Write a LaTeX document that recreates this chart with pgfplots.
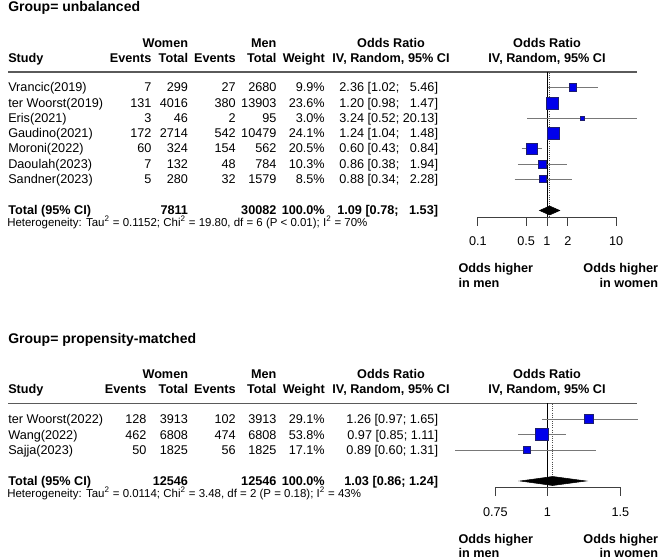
\documentclass[border=0pt]{standalone}
\usepackage{pgfplots}
\pgfplotsset{compat=1.18}
\usepackage{pgfplotstable}
\usepackage{fontspec}
\setmainfont{Liberation Sans}

\definecolor{sqblue}{RGB}{0,0,235}
\definecolor{sqedge}{RGB}{30,30,110}
\definecolor{cigray}{RGB}{120,120,120}
\definecolor{rulegray}{RGB}{90,90,90}

% one reference pixel = 0.75pt, y runs downwards like the image
\pgfplotsset{
  panel/.style={width=495pt, height=419.25pt, scale only axis, hide axis,
    clip=false, ymin=0, ymax=559, y dir=reverse, at={(0,0)}, anchor=south west},
}

% odds ratio, row position, weight (%)
\pgfplotstableread{
or   y     w
2.36 87.5  9.9
1.20 103   23.6
3.24 118   3.0
1.24 133.5 24.1
0.60 148.5 20.5
0.86 164   10.3
0.88 179   8.5
}\topsq
\pgfplotstableread{
or   y     w
1.26 419   29.1
0.97 434.5 53.8
0.89 450   17.1
}\botsq

\newcommand{\rt}[3]{\node[anchor=base east] at (axis cs:#1,#2) {#3};}
\newcommand{\lt}[3]{\node[anchor=base west] at (axis cs:#1,#2) {#3};}
\newcommand{\ct}[3]{\node[anchor=base] at (axis cs:#1,#2) {#3};}
\newcommand{\studyrow}[9]{%
  \lt{8}{#2}{#3}\rt{#1}{#2}{#4}\rt{188.3}{#2}{#5}\rt{236}{#2}{#6}%
  \rt{276.7}{#2}{#7}\rt{325}{#2}{#8}\rt{438.3}{#2}{#9}}
\newcommand{\ttl}{\fontsize{10.5}{12}\selectfont\bfseries}
\newcommand{\het}{\fontsize{8.6}{10}\selectfont}
\newcommand{\ph}{\phantom{0}}

\begin{document}
\begin{tikzpicture}[every node/.style={inner sep=0pt, font=\fontsize{9.5}{11}\selectfont}]
\useasboundingbox (0,0) rectangle (495pt,419.25pt);

% ---------------- text table ----------------
\begin{axis}[panel, xmin=0, xmax=660]
  % top group
  \lt{8}{12}{\ttl Group= unbalanced}
  \rt{188.3}{47.5}{\bfseries Women}
  \rt{276.7}{47.5}{\bfseries Men}
  \ct{391}{47.5}{\bfseries Odds Ratio}
  \ct{547}{47.5}{\bfseries Odds Ratio}
  \lt{8}{62.8}{\bfseries Study}
  \rt{151.7}{62.8}{\bfseries Events}
  \rt{188.3}{62.8}{\bfseries Total}
  \rt{236}{62.8}{\bfseries Events}
  \rt{276.7}{62.8}{\bfseries Total}
  \rt{325}{62.8}{\bfseries Weight}
  \ct{391}{62.8}{\bfseries IV, Random, 95\% CI}
  \ct{547}{62.8}{\bfseries IV, Random, 95\% CI}
  \addplot[rulegray, line width=0.8pt, no marks] coordinates {(8,72) (637,72)};
  \studyrow{151.7}{92}{Vrancic(2019)}{7}{299}{27}{2680}{9.9\%}{2.36 [1.02; \ph5.46]}
  \studyrow{151.7}{107.5}{ter Woorst(2019)}{131}{4016}{380}{13903}{23.6\%}{1.20 [0.98; \ph1.47]}
  \studyrow{151.7}{122.5}{Eris(2021)}{3}{46}{2}{95}{3.0\%}{3.24 [0.52; 20.13]}
  \studyrow{151.7}{138}{Gaudino(2021)}{172}{2714}{542}{10479}{24.1\%}{1.24 [1.04; \ph1.48]}
  \studyrow{151.7}{153}{Moroni(2022)}{60}{324}{154}{562}{20.5\%}{0.60 [0.43; \ph0.84]}
  \studyrow{151.7}{168.5}{Daoulah(2023)}{7}{132}{48}{784}{10.3\%}{0.86 [0.38; \ph1.94]}
  \studyrow{151.7}{183.5}{Sandner(2023)}{5}{280}{32}{1579}{8.5\%}{0.88 [0.34; \ph2.28]}
  \studyrow{151.7}{214.5}{\bfseries Total (95\% CI)}{}{\bfseries 7811}{}{\bfseries 30082}{\bfseries 100.0\%}{\bfseries 1.09 [0.78; \ph1.53]}
  \lt{7}{227}{\het Heterogeneity: Tau\textsuperscript{2} = 0.1152; Chi\textsuperscript{2} = 19.80, df = 6 (P < 0.01); I\textsuperscript{2} = 70\%}
  \lt{458.3}{272.5}{\bfseries Odds higher}
  \lt{458.3}{287.8}{\bfseries in men}
  \rt{658.3}{272.5}{\bfseries Odds higher}
  \rt{658.3}{287.8}{\bfseries in women}

  % bottom group
  \lt{8}{344}{\ttl Group= propensity-matched}
  \rt{188.3}{378.5}{\bfseries Women}
  \rt{276.7}{378.5}{\bfseries Men}
  \ct{391}{378.5}{\bfseries Odds Ratio}
  \ct{547}{378.5}{\bfseries Odds Ratio}
  \lt{8}{393.8}{\bfseries Study}
  \rt{146.7}{393.8}{\bfseries Events}
  \rt{188.3}{393.8}{\bfseries Total}
  \rt{236}{393.8}{\bfseries Events}
  \rt{276.7}{393.8}{\bfseries Total}
  \rt{325}{393.8}{\bfseries Weight}
  \ct{391}{393.8}{\bfseries IV, Random, 95\% CI}
  \ct{547}{393.8}{\bfseries IV, Random, 95\% CI}
  \addplot[rulegray, line width=0.8pt, no marks] coordinates {(8,403.3) (637,403.3)};
  \studyrow{146.7}{423.5}{ter Woorst(2022)}{128}{3913}{102}{3913}{29.1\%}{1.26 [0.97; 1.65]}
  \studyrow{146.7}{439}{Wang(2022)}{462}{6808}{474}{6808}{53.8\%}{0.97 [0.85; 1.11]}
  \studyrow{146.7}{454.5}{Sajja(2023)}{50}{1825}{56}{1825}{17.1\%}{0.89 [0.60; 1.31]}
  \studyrow{146.7}{485}{\bfseries Total (95\% CI)}{}{\bfseries 12546}{}{\bfseries 12546}{\bfseries 100.0\%}{\bfseries 1.03 [0.86; 1.24]}
  \lt{7}{497.5}{\het Heterogeneity: Tau\textsuperscript{2} = 0.0114; Chi\textsuperscript{2} = 3.48, df = 2 (P = 0.18); I\textsuperscript{2} = 43\%}
  \lt{458.3}{543.5}{\bfseries Odds higher}
  \lt{458.3}{557}{\bfseries in men}
  \rt{658.3}{543.5}{\bfseries Odds higher}
  \rt{658.3}{557}{\bfseries in women}
\end{axis}

% ---------------- top forest ----------------
\begin{axis}[panel, xmode=log, xmin=1.2455e-8, xmax=42.95]
  \addplot[black, line width=0.6pt, no marks] coordinates {(1,72) (1,217.5)};
  \addplot[black!70, densely dotted, line width=0.6pt, no marks] coordinates {(1.09,73) (1.09,217.5)};
  \addplot[scatter, only marks, mark=square*,
    scatter/use mapped color={draw=sqedge, fill=sqblue},
    visualization depends on={0.919*sqrt(\thisrow{w}) \as \msz},
    scatter/@pre marker code/.append style={/tikz/mark size=\msz pt, /tikz/line width=0.4pt}]
    table[x=or, y=y] \topsq;
  \addplot[cigray, line width=0.6pt, no marks, unbounded coords=jump] coordinates {
    (1.02,87.5) (5.46,87.5) (nan,nan)
    (0.98,103) (1.47,103) (nan,nan)
    (0.52,118) (20.13,118) (nan,nan)
    (1.04,133.5) (1.48,133.5) (nan,nan)
    (0.43,148.5) (0.84,148.5) (nan,nan)
    (0.38,164) (1.94,164) (nan,nan)
    (0.34,179) (2.28,179)};
  \addplot[fill=black, draw=black, line width=0.4pt] coordinates
    {(0.78,210.5) (1.09,206) (1.53,210.5) (1.09,215)} -- cycle;
  % axis
  \addplot[black!75, line width=0.6pt, no marks, unbounded coords=jump] coordinates {
    (0.1,226) (0.1,217.5) (10,217.5) (10,226) (nan,nan)
    (0.5,217.5) (0.5,226) (nan,nan)
    (1,217.5) (1,226) (nan,nan)
    (2,217.5) (2,226)};
  \ct{0.1}{246}{0.1}
  \ct{0.5}{246}{0.5}
  \ct{1}{246}{1}
  \ct{2}{246}{2}
  \ct{10}{246}{10}
\end{axis}

% ---------------- bottom forest ----------------
\begin{axis}[panel, xmode=log, xmin=0.04799, xmax=1.8686]
  \addplot[black, line width=0.6pt, no marks] coordinates {(1,403.3) (1,487.5)};
  \addplot[black!70, densely dotted, line width=0.6pt, no marks] coordinates {(1.03,404) (1.03,487.5)};
  \addplot[scatter, only marks, mark=square*,
    scatter/use mapped color={draw=sqedge, fill=sqblue},
    visualization depends on={0.63*sqrt(\thisrow{w}) \as \msz},
    scatter/@pre marker code/.append style={/tikz/mark size=\msz pt, /tikz/line width=0.4pt}]
    table[x=or, y=y] \botsq;
  \addplot[cigray, line width=0.6pt, no marks, unbounded coords=jump] coordinates {
    (0.97,419) (1.65,419) (nan,nan)
    (0.85,434.5) (1.11,434.5) (nan,nan)
    (0.60,450) (1.31,450)};
  \addplot[fill=black, draw=black, line width=0.4pt] coordinates
    {(0.86,481) (1.03,476.5) (1.24,481) (1.03,485.5)} -- cycle;
  \addplot[black!75, line width=0.6pt, no marks, unbounded coords=jump] coordinates {
    (0.75,496) (0.75,487.5) (1.5,487.5) (1.5,496) (nan,nan)
    (1,487.5) (1,496)};
  \ct{0.75}{516}{0.75}
  \ct{1}{516}{1}
  \ct{1.5}{516}{1.5}
\end{axis}
\end{tikzpicture}
\end{document}
